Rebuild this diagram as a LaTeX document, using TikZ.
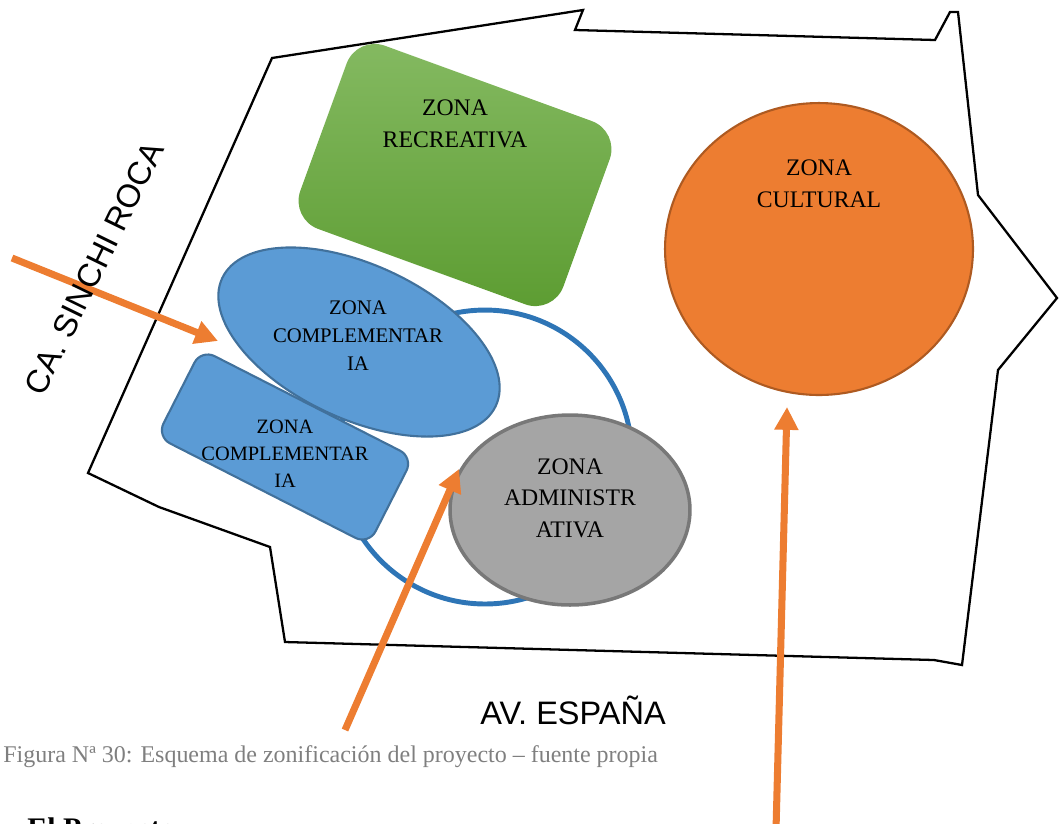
\documentclass[tikz,border=0pt]{standalone}
\usepackage{fontspec}
\setmainfont{Liberation Serif}
\newfontfamily\cadfont{Liberation Sans}
\usetikzlibrary{arrows.meta,shapes.geometric}

\definecolor{zoneblue}{HTML}{5B9BD5}
\definecolor{zonebluedark}{HTML}{41719C}
\definecolor{ringblue}{HTML}{2E75B6}
\definecolor{zoneorange}{HTML}{ED7D31}
\definecolor{zoneorangedark}{HTML}{AE5A21}
\definecolor{zonegray}{HTML}{A5A5A5}
\definecolor{zonegraydark}{HTML}{787878}
\definecolor{greentop}{HTML}{85BA62}
\definecolor{greenbot}{HTML}{5C9C31}
\definecolor{captiongray}{HTML}{7F7F7F}

\tikzset{
  zone/.style={inner sep=0pt, line width=1.2pt},
  zonelabel/.style={align=center, font=\fontsize{13.5}{18}\selectfont},
  smalllabel/.style={align=center, font=\fontsize{11.8}{16}\selectfont},
  access/.style={zoneorange, line width=4pt, -{Triangle[length=13pt,width=13pt]}},
  street/.style={font=\cadfont\fontsize{18.5}{19}\selectfont},
}

\begin{document}
\begin{tikzpicture}[x=0.02cm, y=-0.02cm]
\useasboundingbox (0,0) rectangle (1061,823);

% Site outline
\draw[line width=1.3pt] (272,58) -- (583,10) -- (575,30) -- (935,40) -- (950,12) -- (958,12) -- (978,195) -- (1057,298) -- (998,370) -- (962,665) -- (934,660) -- (285,642) -- (270,547) -- (159,507) -- (88,473) -- cycle;

% Circulation ring
\node[circle, draw=ringblue, line width=2.8pt, minimum size=5.88cm, inner sep=0pt] (ring) at (485,457) {};

% Zones
\node[zone, rectangle, rounded corners=17pt, rotate=-20, minimum width=5.6cm, minimum height=3.9cm, top color=greentop, bottom color=greenbot] (recreativa) at (455,175) {};
\node[zone, ellipse, fill=zoneblue, draw=zonebluedark, rotate=-25, minimum width=6.04cm, minimum height=3.08cm] (compA) at (359,342) {};
\node[zone, rectangle, rounded corners=8.5pt, fill=zoneblue, draw=zonebluedark, rotate=-27, minimum width=4.76cm, minimum height=1.96cm] (compB) at (285,447) {};
\node[zone, ellipse, fill=zonegray, draw=zonegraydark, line width=2pt, minimum width=4.8cm, minimum height=3.8cm] (admin) at (570,510) {};
\node[zone, ellipse, fill=zoneorange, draw=zoneorangedark, minimum width=6.16cm, minimum height=5.84cm] (cultural) at (819,249) {};

% Zone names
\node[zonelabel] (recreativaText) at (455,124) {ZONA\\RECREATIVA};
\node[zonelabel] (culturalText) at (819,184) {ZONA\\CULTURAL};
\node[zonelabel] (adminText) at (570,498) {ZONA\\ADMINISTR\\ATIVA};
\node[smalllabel] (compAText) at (358,336) {ZONA\\COMPLEMENTAR\\IA};
\node[smalllabel, font=\fontsize{11.6}{15.3}\selectfont] (compBText) at (285,454) {ZONA\\COMPLEMENTAR\\IA};

% Accesses
\coordinate (westIn) at (12,258);
\coordinate (westTip) at (218,341);
\coordinate (southIn) at (345,730);
\coordinate (southTip) at (459,469);
\coordinate (avIn) at (776,830);
\coordinate (avTip) at (787,407);
\draw[access] (westIn) -- (westTip);
\draw[access] (southIn) -- (southTip);
\draw[access] (avIn) -- (avTip);

% Streets
\node[street, rotate=64] (sinchi) at (94,268) {CA.\ SINCHI ROCA};
\node[street] (espana) at (573,710) {AV.\ ESPAÑA};

% Caption
\node[anchor=west, text=captiongray, font=\fontsize{13.65}{16}\selectfont, inner sep=0pt] (caption) at (3,757) {Figura Nª 30: Esquema de zonificación del proyecto – fuente propia};
\node[anchor=base west, font=\bfseries\fontsize{17}{20}\selectfont, inner sep=0pt] (proyecto) at (27,838) {El Proyecto};
\end{tikzpicture}
\end{document}
